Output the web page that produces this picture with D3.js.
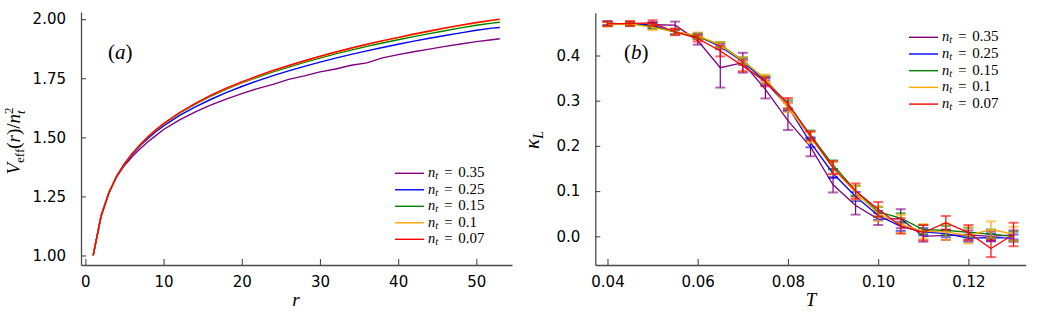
<!DOCTYPE html>
<html>
<head>
<meta charset="utf-8">
<script src="https://cdn.jsdelivr.net/npm/d3@7"></script>
<style>
  body { margin: 0; background: #fff; }
  svg { display: block; }
</style>
</head>
<body>
<svg id="chart" width="1038" height="312"></svg>
<script>
// ---- data, panel (a): V_eff(r)/n_t^2 vs r ----
const rVals = [1, 2, 3, 4, 5, 6, 7, 8, 9, 10, 12, 14, 16, 18, 20, 22, 24, 26, 28, 30,
  32, 34, 36, 38, 40, 42, 44, 46, 48, 50, 52, 53];
const pot035 = [1.000, 1.165, 1.263, 1.333, 1.381, 1.419, 1.452, 1.481, 1.507, 1.533, 1.573, 1.607,
  1.636, 1.662, 1.685, 1.706, 1.724, 1.745, 1.760, 1.777, 1.789, 1.805, 1.815, 1.836, 1.850, 1.862,
  1.873, 1.885, 1.895, 1.905, 1.913, 1.917];
const pot025 = [1.000, 1.166, 1.265, 1.335, 1.387, 1.428, 1.464, 1.495, 1.524, 1.548, 1.592, 1.628,
  1.660, 1.689, 1.715, 1.739, 1.761, 1.781, 1.800, 1.818, 1.835, 1.851, 1.866, 1.880, 1.894, 1.907,
  1.919, 1.931, 1.942, 1.953, 1.962, 1.965];
const pot015 = [1.000, 1.166, 1.265, 1.336, 1.389, 1.432, 1.468, 1.501, 1.530, 1.556, 1.601, 1.639,
  1.673, 1.703, 1.730, 1.754, 1.777, 1.797, 1.817, 1.835, 1.853, 1.869, 1.885, 1.899, 1.913, 1.926,
  1.939, 1.951, 1.963, 1.974, 1.983, 1.987];
const pot010 = [1.000, 1.166, 1.265, 1.336, 1.389, 1.432, 1.469, 1.502, 1.531, 1.557, 1.603, 1.642,
  1.676, 1.706, 1.733, 1.758, 1.781, 1.802, 1.822, 1.841, 1.859, 1.876, 1.892, 1.907, 1.921, 1.935,
  1.948, 1.961, 1.973, 1.984, 1.994, 1.998];
const pot007 = [1.000, 1.166, 1.265, 1.336, 1.389, 1.432, 1.469, 1.502, 1.532, 1.558, 1.604, 1.643,
  1.677, 1.708, 1.735, 1.760, 1.783, 1.804, 1.824, 1.843, 1.861, 1.878, 1.894, 1.909, 1.923, 1.937,
  1.950, 1.963, 1.975, 1.986, 1.996, 2.000];

// ---- data, panel (b): kappa_L vs T ----
const temps = [0.04, 0.045, 0.05, 0.055, 0.06, 0.065, 0.07, 0.075, 0.08, 0.085, 0.09, 0.095,
  0.10, 0.105, 0.11, 0.115, 0.12, 0.125, 0.13];
const kap035 = [0.471, 0.470, 0.468, 0.467, 0.433, 0.373, 0.384, 0.325, 0.256, 0.198, 0.114, 0.068,
  0.038, 0.039, 0.000, 0.002, 0.003, 0.000, 0.003];
const err035 = [0.005, 0.005, 0.006, 0.008, 0.009, 0.044, 0.022, 0.020, 0.021, 0.021, 0.017, 0.020,
  0.013, 0.021, 0.012, 0.010, 0.010, 0.010, 0.010];
const kap025 = [0.471, 0.470, 0.467, 0.452, 0.443, 0.420, 0.386, 0.342, 0.287, 0.207, 0.139, 0.088,
  0.046, 0.022, 0.010, 0.006, -0.004, -0.003, -0.004];
const err025 = [0.004, 0.004, 0.005, 0.005, 0.006, 0.006, 0.007, 0.008, 0.009, 0.010, 0.010, 0.010,
  0.010, 0.010, 0.008, 0.008, 0.008, 0.008, 0.008];
const kap015 = [0.470, 0.470, 0.464, 0.452, 0.442, 0.424, 0.389, 0.347, 0.292, 0.224, 0.158, 0.101,
  0.054, 0.040, 0.015, 0.013, 0.009, 0.005, 0.000];
const err015 = [0.004, 0.004, 0.005, 0.005, 0.006, 0.006, 0.007, 0.008, 0.009, 0.010, 0.010, 0.011,
  0.011, 0.011, 0.010, 0.010, 0.010, 0.010, 0.010];
const kap010 = [0.469, 0.470, 0.462, 0.453, 0.444, 0.423, 0.388, 0.349, 0.285, 0.219, 0.151, 0.096,
  0.050, 0.027, 0.011, 0.010, 0.002, 0.015, 0.005];
const err010 = [0.005, 0.005, 0.006, 0.006, 0.007, 0.007, 0.008, 0.009, 0.010, 0.012, 0.014, 0.015,
  0.016, 0.020, 0.016, 0.018, 0.018, 0.018, 0.016];
const kap007 = [0.470, 0.471, 0.472, 0.452, 0.438, 0.410, 0.377, 0.342, 0.294, 0.222, 0.152, 0.100,
  0.060, 0.023, 0.008, 0.030, 0.008, -0.027, 0.004];
const err007 = [0.005, 0.005, 0.006, 0.007, 0.007, 0.012, 0.012, 0.010, 0.012, 0.010, 0.014, 0.017,
  0.016, 0.017, 0.017, 0.015, 0.017, 0.019, 0.026];

const ntLabels = ["0.35", "0.25", "0.15", "0.1", "0.07"];
const colors = ["#800080", "#0000ff", "#008000", "#ffa500", "#ff0000"];

const rTicks = [0, 10, 20, 30, 40, 50];
const potTicks = [1.0, 1.25, 1.5, 1.75, 2.0];
const tTicks = [0.04, 0.06, 0.08, 0.10, 0.12];
const kapTicks = [0.0, 0.1, 0.2, 0.3, 0.4];

const potSeries = [pot035, pot025, pot015, pot010, pot007];
const kapSeries = [[kap035, err035], [kap025, err025], [kap015, err015], [kap010, err010], [kap007, err007]];

const serif = "Liberation Serif";
const sans = "DejaVu Sans";
const axisColor = "#4a4a4a";

const svg = d3.select("#chart");

// axes helper: inward ticks, no outer ticks
function drawAxes(x, y, xTicks, yTicks, xFmt, yFmt) {
  const gx = svg.append("g")
    .attr("transform", `translate(0,${y.range()[0]})`)
    .call(d3.axisBottom(x).tickValues(xTicks).tickFormat(d3.format(xFmt))
      .tickSizeInner(-6).tickSizeOuter(0).tickPadding(11));
  const gy = svg.append("g")
    .attr("transform", `translate(${x.range()[0]},0)`)
    .call(d3.axisLeft(y).tickValues(yTicks).tickFormat(d3.format(yFmt))
      .tickSizeInner(-5).tickSizeOuter(0).tickPadding(15));
  [gx, gy].forEach(g => {
    g.attr("font-family", sans).attr("font-size", 15);
    g.select(".domain").attr("stroke", axisColor).attr("stroke-width", 1.3);
    g.selectAll(".tick line").attr("stroke", axisColor).attr("stroke-width", 1.1);
    g.selectAll(".tick text").attr("fill", "#000");
  });
}

function legend(x0, y0, step) {
  ntLabels.forEach((lab, i) => {
    const yy = y0 + i * step;
    svg.append("line")
      .attr("x1", x0).attr("x2", x0 + 29)
      .attr("y1", yy).attr("y2", yy)
      .attr("stroke", colors[i]).attr("stroke-width", 1.4);
    const t = svg.append("text")
      .attr("x", x0 + 33).attr("y", yy + 4)
      .attr("font-family", serif).attr("font-size", 14.5);
    t.append("tspan").attr("font-style", "italic").text("n");
    t.append("tspan").attr("font-style", "italic").attr("font-size", 10.5).attr("dy", 2).text("t");
    t.append("tspan").attr("dy", -2).attr("dx", 6).text("=");
    t.append("tspan").attr("dx", 6).attr("font-size", 15).text(lab);
  });
}

// ---------------- panel (a) ----------------
const xA = d3.scaleLinear().domain([-0.56, 54.56]).range([81, 512]);
const yA = d3.scaleLinear().domain([0.9597, 2.0303]).range([265, 12]);

drawAxes(xA, yA, rTicks, potTicks, "d", ".2f");

const lineA = d3.line().x((d, i) => xA(rVals[i])).y(d => yA(d));
potSeries.forEach((s, i) => {
  svg.append("path")
    .datum(s)
    .attr("fill", "none")
    .attr("stroke", colors[i])
    .attr("stroke-width", 1.4)
    .attr("d", lineA);
});

legend(395, 173.3, 16.5);

svg.append("text")
  .attr("x", 108).attr("y", 59)
  .attr("font-family", serif).attr("font-size", 21)
  .html('(<tspan font-style="italic">a</tspan>)');

// y label V_eff(r)/n_t^2
const ylA = svg.append("text")
  .attr("transform", "translate(20,141) rotate(-90)")
  .attr("text-anchor", "middle")
  .attr("font-family", serif).attr("font-size", 19);
ylA.append("tspan").attr("font-style", "italic").text("V");
ylA.append("tspan").attr("font-size", 13).attr("dy", 4).text("eff");
ylA.append("tspan").attr("dy", -4).text("(");
ylA.append("tspan").attr("font-style", "italic").text("r");
ylA.append("tspan").text(")/");
ylA.append("tspan").attr("font-style", "italic").text("n");
ylA.append("tspan").attr("font-style", "italic").attr("font-size", 13).attr("dy", 5).text("t");
ylA.append("tspan").attr("font-size", 13).attr("dx", -3.6).attr("dy", -12).text("2");

svg.append("text")
  .attr("x", 296).attr("y", 306)
  .attr("text-anchor", "middle")
  .attr("font-family", serif).attr("font-size", 19).attr("font-style", "italic")
  .text("r");

// ---------------- panel (b) ----------------
const xB = d3.scaleLinear().domain([0.0373, 0.1327]).range([595.3, 1025.7]);
const yB = d3.scaleLinear().domain([-0.0635, 0.4947]).range([265, 12.7]);

drawAxes(xB, yB, tTicks, kapTicks, ".2f", ".1f");

const lineB = d3.line().x((d, i) => xB(temps[i])).y(d => yB(d));
kapSeries.forEach(([vals, errs], i) => {
  const g = svg.append("g");
  const pts = vals.map((v, j) => ({ t: temps[j], v: v, e: errs[j] }));
  // error bars
  g.selectAll(".bar")
    .data(pts)
    .enter()
    .append("line")
    .attr("x1", d => xB(d.t)).attr("x2", d => xB(d.t))
    .attr("y1", d => yB(d.v - d.e)).attr("y2", d => yB(d.v + d.e))
    .attr("stroke", colors[i]).attr("stroke-width", 1.2);
  ["lo", "hi"].forEach(k => {
    g.selectAll(".cap" + k)
      .data(pts)
      .enter()
      .append("line")
      .attr("x1", d => xB(d.t) - 5).attr("x2", d => xB(d.t) + 5)
      .attr("y1", d => yB(k === "lo" ? d.v - d.e : d.v + d.e))
      .attr("y2", d => yB(k === "lo" ? d.v - d.e : d.v + d.e))
      .attr("stroke", colors[i]).attr("stroke-opacity", 0.6).attr("stroke-width", 2);
  });
  g.append("path")
    .datum(vals)
    .attr("fill", "none")
    .attr("stroke", colors[i])
    .attr("stroke-width", 1.3)
    .attr("d", lineB);
});

legend(909, 37.3, 16.7);

svg.append("text")
  .attr("x", 624).attr("y", 59)
  .attr("font-family", serif).attr("font-size", 21)
  .html('(<tspan font-style="italic">b</tspan>)');

// y label kappa_L
const ylB = svg.append("text")
  .attr("transform", "translate(539,140) rotate(-90)")
  .attr("text-anchor", "middle")
  .attr("font-family", serif).attr("font-size", 21);
ylB.append("tspan").attr("font-style", "italic").text("κ");
ylB.append("tspan").attr("font-style", "italic").attr("font-size", 14).attr("dy", 4).text("L");

svg.append("text")
  .attr("x", 811).attr("y", 306)
  .attr("text-anchor", "middle")
  .attr("font-family", serif).attr("font-size", 19).attr("font-style", "italic")
  .text("T");
</script>
</body>
</html>
